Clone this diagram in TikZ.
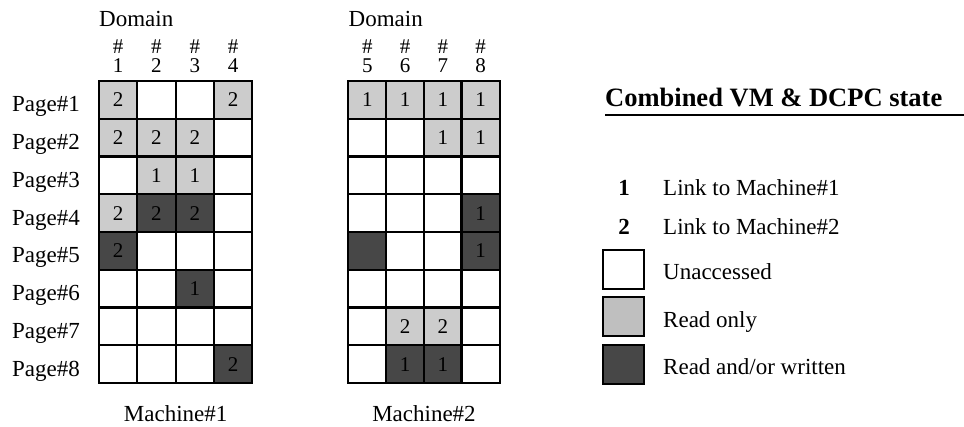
\documentclass[tikz,border=0pt]{standalone}
\usepackage{fontspec}
\setmainfont{Liberation Serif}
\begin{document}
\begin{tikzpicture}[x=1pt,y=-1pt,
  txt/.style={inner sep=0pt,font=\fontsize{23}{26}\selectfont},
  hdr/.style={inner sep=0pt,align=center,font=\fontsize{21}{18.5}\selectfont},
  celltxt/.style={font=\fontsize{21}{24}\selectfont},
  cellbase/.style={draw=black,line width=2.2pt,minimum width=38.3pt,minimum height=37.75pt,inner sep=0pt,celltxt},
  cellW/.style={cellbase,fill=white},
  cellR/.style={cellbase,fill=black!20},
  cellRW/.style={cellbase,fill=black!72},
  legbox/.style={draw=black,line width=2pt,minimum width=41pt,minimum height=39pt,inner sep=0pt}]
\useasboundingbox (0,0) rectangle (964,426);
% ---------- left grid (Machine#1)
\foreach \r/\row in {1/{cellR/2,cellW/{},cellW/{},cellR/2},
                     2/{cellR/2,cellR/2,cellR/2,cellW/{}},
                     3/{cellW/{},cellR/1,cellR/1,cellW/{}},
                     4/{cellR/2,cellRW/2,cellRW/2,cellW/{}},
                     5/{cellRW/2,cellW/{},cellW/{},cellW/{}},
                     6/{cellW/{},cellW/{},cellRW/1,cellW/{}},
                     7/{cellW/{},cellW/{},cellW/{},cellW/{}},
                     8/{cellW/{},cellW/{},cellW/{},cellRW/2}}{
  \foreach \s/\n [count=\c] in \row {
    \node[\s] (L\r-\c) at ({99+38.3*(\c-0.5)},{81+37.75*(\r-0.5)}) {\n};
  }
}
% ---------- right grid (Machine#2)
\foreach \r/\row in {1/{cellR/1,cellR/1,cellR/1,cellR/1},
                     2/{cellW/{},cellW/{},cellR/1,cellR/1},
                     3/{cellW/{},cellW/{},cellW/{},cellW/{}},
                     4/{cellW/{},cellW/{},cellW/{},cellRW/1},
                     5/{cellRW/{},cellW/{},cellW/{},cellRW/1},
                     6/{cellW/{},cellW/{},cellW/{},cellW/{}},
                     7/{cellW/{},cellR/2,cellR/2,cellW/{}},
                     8/{cellW/{},cellRW/1,cellRW/1,cellW/{}}}{
  \foreach \s/\n [count=\c] in \row {
    \node[\s] (R\r-\c) at ({348.5+37.75*(\c-0.5)},{81+37.75*(\r-0.5)}) {\n};
  }
}
% ---------- page labels
\foreach \r in {1,...,8}{
  \node[txt,anchor=base west] (P\r) at (12,{81+37.75*(\r-0.5)+12}) {Page\#\r};
}
% ---------- domain headers
\node[txt,anchor=base west] (D1) at (99,26) {Domain};
\node[txt,anchor=base west] (D2) at (348.5,26) {Domain};
\foreach \c in {1,...,4}{
  \node[hdr] (HL\c) at ({99+38.3*(\c-0.5)},56) {\#\\\c};
}
\foreach \c [evaluate=\c as \d using int(\c+4)] in {1,...,4}{
  \node[hdr] (HR\c) at ({348.5+37.75*(\c-0.5)},56) {\#\\\d};
}
% ---------- machine labels
\node[txt,anchor=base] (M1) at (175.7,421) {Machine\#1};
\node[txt,anchor=base] (M2) at (424,421) {Machine\#2};
% ---------- legend
\node[inner sep=0pt,anchor=base west,font=\fontsize{26.5}{30}\selectfont\bfseries] (T) at (605,106) {Combined VM \& DCPC state};
\coordinate (U1) at (605,115);
\coordinate (U2) at (964,115);
\draw[line width=2pt] (U1) -- (U2);
\node[txt,anchor=base,font=\fontsize{23}{26}\selectfont\bfseries] (K1) at (624,195) {1};
\node[txt,anchor=base west] (K1t) at (663,195) {Link to Machine\#1};
\node[txt,anchor=base,font=\fontsize{23}{26}\selectfont\bfseries] (K2) at (624,234) {2};
\node[txt,anchor=base west] (K2t) at (663,234) {Link to Machine\#2};
\node[legbox,fill=white] (B1) at (623.5,269.5) {};
\node[txt,anchor=base west] (B1t) at (663,279) {Unaccessed};
\node[legbox,fill=black!25] (B2) at (623.5,316.5) {};
\node[txt,anchor=base west] (B2t) at (663,327) {Read only};
\node[legbox,fill=black!72] (B3) at (623.5,364) {};
\node[txt,anchor=base west] (B3t) at (663,374) {Read and/or written};
\end{tikzpicture}
\end{document}
